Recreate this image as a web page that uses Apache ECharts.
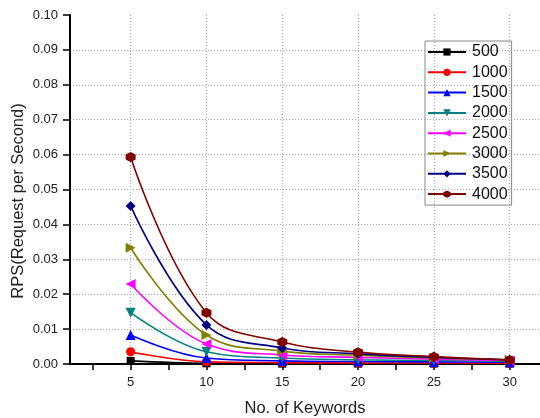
<!DOCTYPE html>
<html><head><meta charset="utf-8">
<script src="https://cdn.jsdelivr.net/npm/echarts@6/dist/echarts.min.js"></script>
<style>html,body{margin:0;padding:0;background:#fff}#c{width:540px;height:418px}</style>
</head><body><div id="c"></div>
<script>
const keywords = [5, 10, 15, 20, 25, 30];
const seriesNames = ['500','1000','1500','2000','2500','3000','3500','4000'];
const s500  = [0.0009, 0.0002, 0.0001, 0.0001, 0.0001, 0.0001];
const s1000 = [0.0035, 0.0006, 0.0004, 0.0003, 0.0003, 0.0002];
const s1500 = [0.0083, 0.0017, 0.0009, 0.0007, 0.0006, 0.0005];
const s2000 = [0.0147, 0.0035, 0.0017, 0.0012, 0.0010, 0.0008];
const s2500 = [0.0229, 0.0057, 0.0026, 0.0019, 0.0014, 0.0010];
const s3000 = [0.0333, 0.0083, 0.0037, 0.0025, 0.0017, 0.0012];
const s3500 = [0.0453, 0.0112, 0.0046, 0.0029, 0.0019, 0.0012];
const s4000 = [0.0593, 0.0147, 0.0063, 0.0034, 0.0021, 0.0011];
const xTickValues = [2.5, 5, 7.5, 10, 12.5, 15, 17.5, 20, 22.5, 25, 27.5, 30];
const xLabelValues = [5, 10, 15, 20, 25, 30];
const yGridValues = [0.01, 0.02, 0.03, 0.04, 0.05, 0.06, 0.07, 0.08, 0.09];

const allData = [s500, s1000, s1500, s2000, s2500, s3000, s3500, s4000];
const colors = ['#000000','#ff0000','#0000ff','#008080','#ff00ff','#808000','#000080','#800000'];
const hexagon = 'path://M0,-10L8.66,-5L8.66,5L0,10L-8.66,5L-8.66,-5Z';
const symbols = ['rect','circle','triangle','triangle','triangle','triangle','diamond',hexagon];
const rotates = [0,0,0,180,90,-90,0,0];
const sizes = [8,9,10,10,10,10,10,10];

const chart = echarts.init(document.getElementById('c'), null, {renderer:'canvas'});
const font = 'Liberation Sans, Arial, sans-serif';
const gridLine = {show: true, lineStyle: {color: '#a8a8a8', type: [1,2], width: 1}};
chart.setOption({
  animation: false,
  backgroundColor: '#fff',
  grid: {left: 70, right: 0, top: 15, bottom: 54},
  legend: {
    orient: 'vertical', left: 425, top: 41,
    itemWidth: 38, itemHeight: 9, itemGap: 4.3,
    padding: [3, 4, 3, 2],
    borderColor: '#888', borderWidth: 1,
    textStyle: {fontFamily: font, fontSize: 16, lineHeight: 16, color: '#111', padding: [0,0,0,1]},
    data: seriesNames
  },
  xAxis: [{
    type: 'value', min: 1, max: 32, position: 'bottom',
    axisLine: {show: true, onZero: false, lineStyle: {color: '#000', width: 2}},
    axisTick: {show: true, inside: false, length: 6, customValues: xTickValues, lineStyle: {color:'#000', width: 1.5}},
    axisLabel: {customValues: xLabelValues, fontFamily: font, fontSize: 13, color: '#222', margin: 12},
    splitLine: {show: false}
  }, {
    type: 'value', min: 1, max: 32, position: 'bottom',
    axisLine: {show: false},
    axisTick: {show: false, customValues: xLabelValues},
    axisLabel: {show: false, customValues: xLabelValues},
    splitLine: gridLine
  }],
  yAxis: [{
    type: 'value', min: 0, max: 0.1, interval: 0.01,
    axisLine: {show: true, lineStyle: {color: '#000', width: 2}},
    axisTick: {show: true, inside: false, length: 7, lineStyle: {color:'#000', width: 1.5}},
    axisLabel: {fontFamily: font, fontSize: 13, color: '#222', margin: 12, formatter: v => v.toFixed(2)},
    splitLine: {show: false}
  }, {
    type: 'value', min: 0, max: 0.1, position: 'left',
    axisLine: {show: false},
    axisTick: {show: false, customValues: yGridValues},
    axisLabel: {show: false, customValues: yGridValues},
    splitLine: gridLine
  }],
  graphic: [
    {type: 'text', x: 305, y: 408, style: {text: 'No. of Keywords', font: '16.5px ' + font, fill: '#222', textAlign: 'center', textVerticalAlign: 'middle'}},
    {type: 'text', rotation: Math.PI/2, x: 18, y: 201, style: {text: 'RPS(Request per Second)', font: '16.5px ' + font, fill: '#222', textAlign: 'center', textVerticalAlign: 'middle'}}
  ],
  series: seriesNames.map((n, i) => ({
    name: n, type: 'line', xAxisIndex: 0, yAxisIndex: 0,
    data: keywords.map((k, j) => [k, allData[i][j]]),
    smooth: 0.4,
    symbol: symbols[i], symbolRotate: rotates[i], symbolSize: sizes[i],
    lineStyle: {color: colors[i], width: 1.6},
    itemStyle: {color: colors[i]},
    z: 2 + i
  }))
});
</script></body></html>
